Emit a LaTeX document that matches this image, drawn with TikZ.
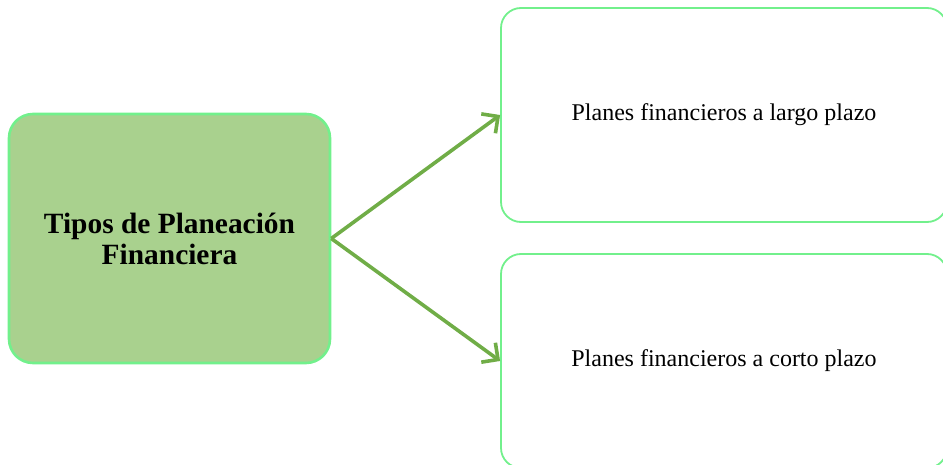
\documentclass[tikz,border=0pt]{standalone}
\usepackage{fontspec}
\setmainfont{Liberation Serif}
\usepackage{tikz}
\usetikzlibrary{arrows.meta,positioning,calc}
\definecolor{boxgreen}{HTML}{A9D18E}
\definecolor{edgegreen}{HTML}{72F08C}
\definecolor{arrowgreen}{HTML}{70AD47}
\tikzset{
  mainbox/.style={draw=edgegreen, line width=1.3pt, fill=boxgreen, rounded corners=12pt,
    minimum width=160.5pt, minimum height=124.5pt, align=center, inner sep=0pt,
    font=\fontsize{14.7}{15.5}\selectfont\bfseries},
  planbox/.style={draw=edgegreen, line width=0.9pt, fill=white, rounded corners=10pt,
    minimum width=223pt, minimum height=107pt, align=center, inner sep=0pt,
    font=\fontsize{12}{14}\selectfont},
  conn/.style={-{Straight Barb[length=6pt,width=12pt]}, line width=1.8pt, draw=arrowgreen},
}

\begin{document}
\begin{tikzpicture}[x=0.5pt,y=-0.5pt]
  \useasboundingbox (0,0) rectangle (943,465);
  \clip (0,0) rectangle (943,465);
  % nodes
  \node[mainbox] (tipos) at (169.5,238.5) {Tipos de Planeación\\Financiera};
  \node[planbox] (largo) at (724,115) {Planes financieros a largo plazo};
  \node[planbox] (corto) at (724,361) {Planes financieros a corto plazo};

  % connections
  \draw[conn] (tipos.east) -- (largo.west);
  \draw[conn] (tipos.east) -- (corto.west);
\end{tikzpicture}
\end{document}
